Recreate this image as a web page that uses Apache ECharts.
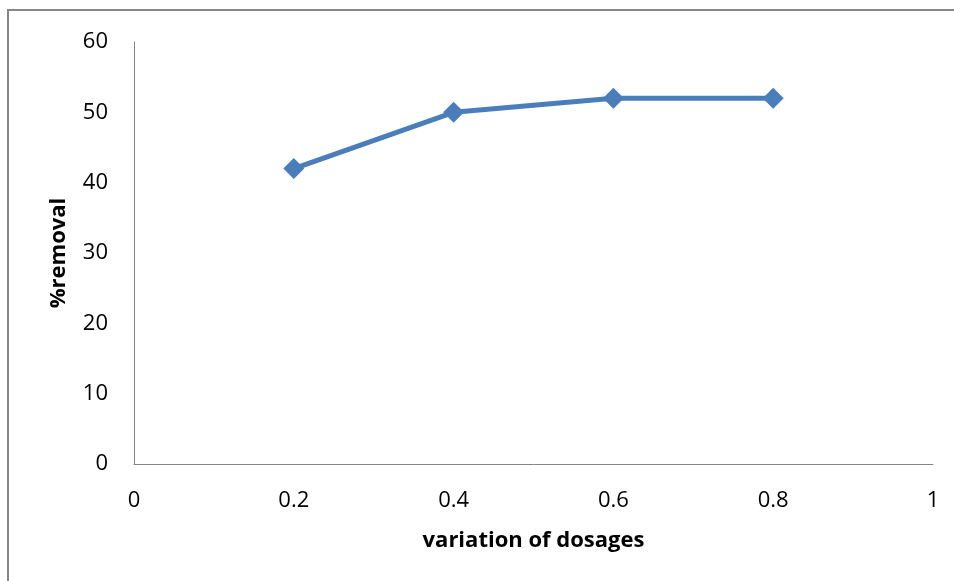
<!DOCTYPE html>
<html>
<head>
<meta charset="utf-8">
<script src="https://cdn.jsdelivr.net/npm/echarts@6/dist/echarts.min.js"></script>
<style>
html,body{margin:0;padding:0;background:#fff;}
#c{width:954px;height:581px;}
</style>
</head>
<body>
<div id="c"></div>
<script>
const dosages = [0.2, 0.4, 0.6, 0.8];
const removal = [42, 50, 52, 52];
const xTitle = 'variation of dosages';
const yTitle = '%removal';

const chart = echarts.init(document.getElementById('c'));
const font = '"Open Sans", "DejaVu Sans", sans-serif';
chart.setOption({
  animation: false,
  backgroundColor: '#fff',
  graphic: [
    {type: 'line', shape: {x1: 8, y1: 10, x2: 8, y2: 581}, style: {stroke: '#868686', lineWidth: 2}},
    {type: 'line', shape: {x1: 7, y1: 10, x2: 954, y2: 10}, style: {stroke: '#868686', lineWidth: 2}}
  ],
  grid: {left: 134, right: 21, top: 42, bottom: 117},
  xAxis: {
    type: 'value', min: 0, max: 1, interval: 0.2,
    name: xTitle, nameLocation: 'middle', nameGap: 66,
    nameTextStyle: {fontFamily: font, fontWeight: 'bold', fontSize: 22, color: '#000'},
    axisLine: {lineStyle: {color: '#868686', width: 1}},
    axisTick: {show: false},
    splitLine: {show: false},
    axisLabel: {fontFamily: font, fontSize: 22, color: '#000', margin: 26}
  },
  yAxis: {
    type: 'value', min: 0, max: 60, interval: 10,
    name: yTitle, nameLocation: 'middle', nameGap: 64,
    nameTextStyle: {fontFamily: font, fontWeight: 'bold', fontSize: 22, color: '#000'},
    axisLine: {show: true, lineStyle: {color: '#868686', width: 1}},
    axisTick: {show: false},
    splitLine: {show: false},
    axisLabel: {fontFamily: font, fontSize: 22, color: '#000', margin: 26}
  },
  series: [{
    type: 'line',
    data: dosages.map((d, i) => [d, removal[i]]),
    symbol: 'diamond', symbolSize: 21,
    lineStyle: {color: '#4a7ebb', width: 5},
    itemStyle: {color: '#4a7ebb'}
  }]
});
</script>
</body>
</html>
